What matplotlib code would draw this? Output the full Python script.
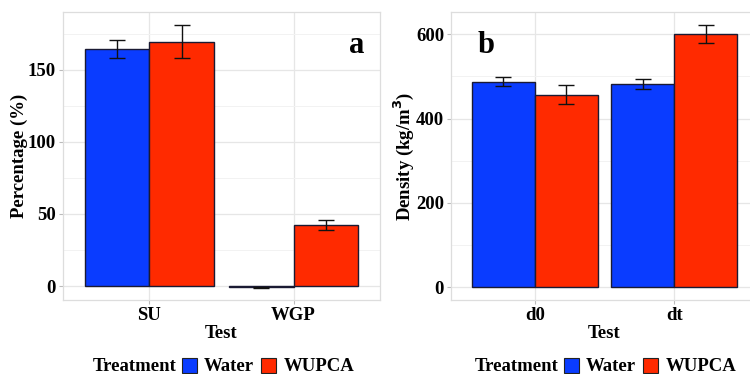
import matplotlib
matplotlib.use('Agg')
import matplotlib.pyplot as plt
from matplotlib.patches import Rectangle
import numpy as np

plt.rcParams['font.family'] = ['Liberation Serif', 'DejaVu Serif']
plt.rcParams['font.weight'] = 'bold'

# panel a
tests_a = ['SU', 'WGP']
water_a = [164.3, -1.0]
water_a_err = [6.0, 0.4]
wupca_a = [169.4, 42.4]
wupca_a_err = [11.6, 3.7]

# panel b
tests_b = ['d0', 'dt']
water_b = [487.6, 482.0]
water_b_err = [11.0, 12.0]
wupca_b = [456.8, 600.0]
wupca_b_err = [21.7, 21.0]

treat = ['Water', 'WUPCA']
cols = ['#0A3CFF', '#FF2A00']

fig = plt.figure(figsize=(7.5, 3.74), dpi=100)
W, H = 750.0, 374.0
ax1 = fig.add_axes([63/W, 1-300/H, (380-63)/W, (300-12.3)/H])
ax2 = fig.add_axes([451/W, 1-300/H, (758-451)/W, (300-12.3)/H])

def panel(ax, tests, w, we, u, ue, ylim, major, minor, ylabel, tag, tagx):
    x = np.arange(len(tests))
    bw = 0.45
    for vals, errs, c, off in [(w, we, cols[0], -bw/2), (u, ue, cols[1], bw/2)]:
        ax.bar(x+off, vals, width=bw, color=c, edgecolor='#1a1a33', linewidth=1.0, zorder=3)
        ax.errorbar(x+off, vals, yerr=errs, fmt='none', ecolor='#111111',
                    elinewidth=1.0, capsize=6, capthick=1.0, zorder=4)
    ax.set_xlim(-0.6, len(tests)-0.4)
    ax.set_ylim(*ylim)
    ax.set_xticks(x)
    ax.set_xticklabels(tests, fontsize=13.5, fontweight='bold')
    ax.set_yticks(major)
    ax.set_yticklabels([str(v) for v in major], fontsize=13.5, fontweight='bold')
    ax.set_yticks(minor, minor=True)
    ax.grid(True, which='major', color='#E6E6E6', linewidth=0.9, zorder=0)
    ax.grid(True, which='minor', axis='y', color='#F2F2F2', linewidth=0.7, zorder=0)
    ax.tick_params(axis='both', which='major', length=3, color='#BBBBBB', pad=2)
    ax.tick_params(axis='y', which='minor', length=0)
    for s in ax.spines.values():
        s.set_color('#DDDDDD')
        s.set_linewidth(0.9)
    ax.set_xlabel('Test', fontsize=13.5, fontweight='bold', labelpad=1)
    ax.set_ylabel(ylabel, fontsize=13.5, fontweight='bold', labelpad=0)
    ax.text(tagx, 0.86, tag, transform=ax.transAxes, fontsize=22, fontweight='bold',
            ha='center', va='baseline')

panel(ax1, tests_a, water_a, water_a_err, wupca_a, wupca_a_err, (-9.7, 189.8),
      [0, 50, 100, 150], [25, 75, 125, 175], 'Percentage (%)', 'a', (357-63)/(380-63))
panel(ax2, tests_b, water_b, water_b_err, wupca_b, wupca_b_err, (-30.1, 652),
      [0, 200, 400, 600], [100, 300, 500], 'Density (kg/m$\\mathbf{^3}$)', 'b', (486-451)/(758-451))

# legends drawn at the bottom of each panel
def legend(x0):
    fig.text(x0/W, 1-371/H, 'Treatment', fontsize=13.5, fontweight='bold', va='baseline')
    pos = [(x0+89, x0+111), (x0+168, x0+191)]
    for (px, tx), c, lab in zip(pos, cols, treat):
        fig.patches.append(Rectangle((px/W, 1-373/H), 15/W, 15/H, transform=fig.transFigure,
                                     facecolor=c, edgecolor='#222222', linewidth=0.8))
        fig.text(tx/W, 1-371/H, lab, fontsize=13.5, fontweight='bold', va='baseline')

legend(93)
legend(475)

fig.savefig('out.png', dpi=100)
